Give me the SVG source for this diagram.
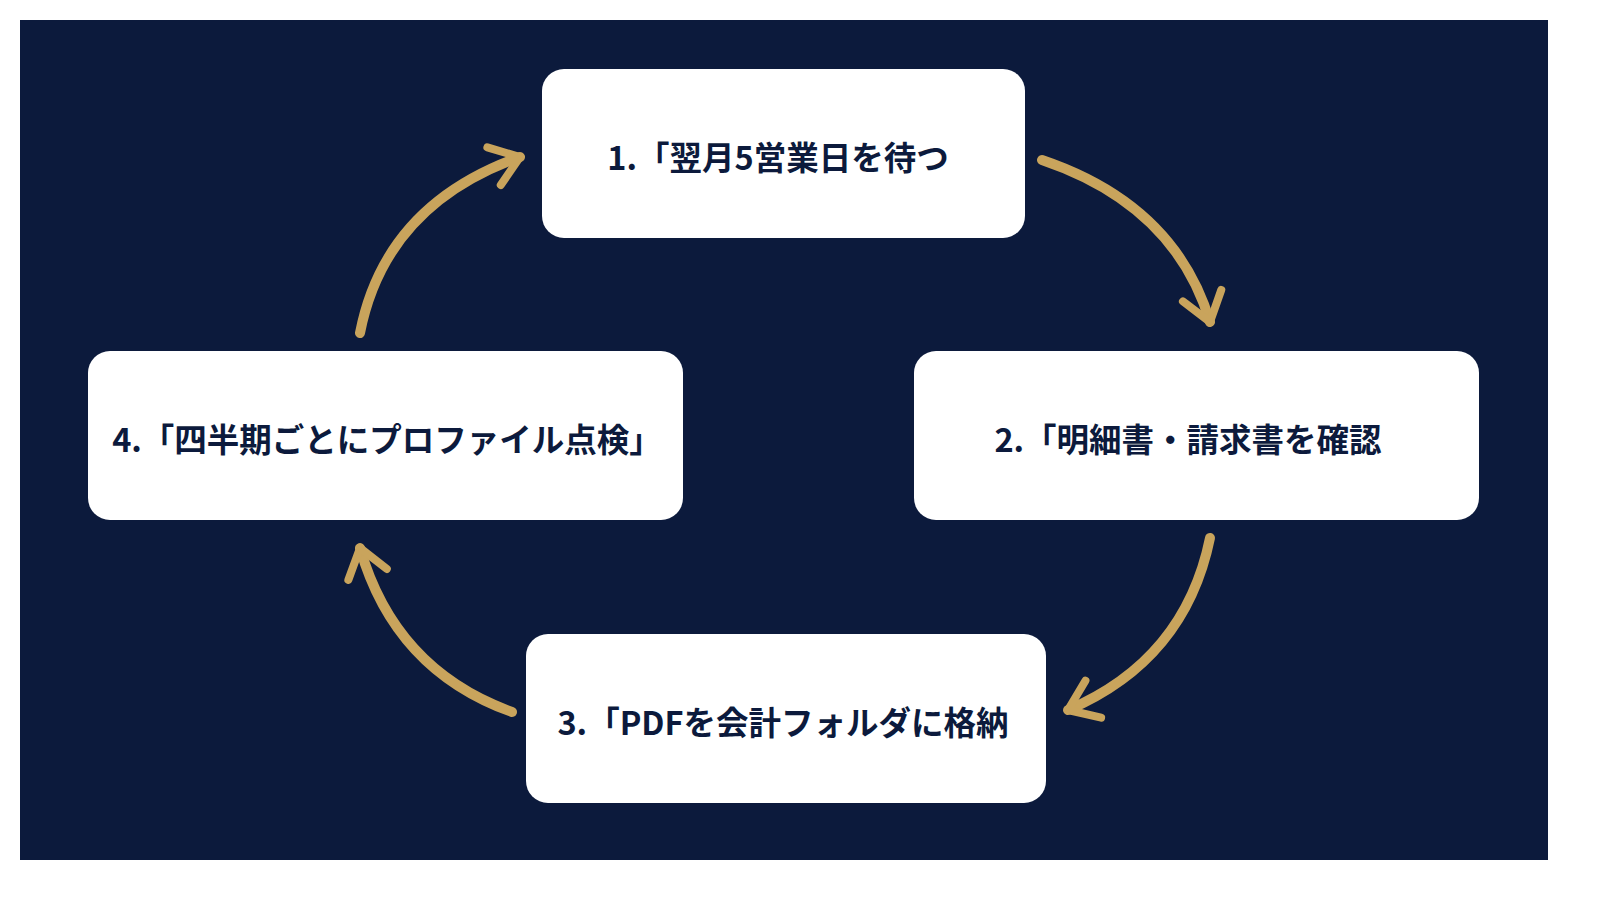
<svg xmlns="http://www.w3.org/2000/svg" width="1600" height="900" viewBox="0 0 1600 900">
<style>
.node rect{fill:#ffffff;}
.node text{font-family:"Noto Sans CJK JP","Noto Sans",sans-serif;font-weight:700;font-size:32.5px;fill:#0c1a3c;text-anchor:middle;dominant-baseline:central;}
.conn path{fill:none;stroke:#c9a45c;stroke-width:10;stroke-linecap:round;}
</style>
<defs>
<marker id="ah" viewBox="0 0 20 20" refX="14" refY="10" markerWidth="5" markerHeight="5" orient="auto" markerUnits="strokeWidth">
<path d="M3,2 L14,10 L3,18" fill="none" stroke="#c9a45c" stroke-width="3.2" stroke-linecap="round" stroke-linejoin="round"/>
</marker>
</defs>
<rect x="0" y="0" width="1600" height="900" fill="#ffffff"/>
<rect x="20" y="20" width="1528" height="840" fill="#0c1a3c"/>
<g class="conn">
<path d="M1042,160 Q1175,205 1210,322" marker-end="url(#ah)"/>
<path d="M1210,538 Q1185,660 1068,710" marker-end="url(#ah)"/>
<path d="M512,712 Q395,670 360,548" marker-end="url(#ah)"/>
<path d="M360,333 Q385,205 520,157" marker-end="url(#ah)"/>
</g>
<g id="node1" class="node"><rect x="542" y="69" width="483" height="169" rx="22"/><text x="778" y="155">1.「翌月5営業日を待つ</text></g>
<g id="node2" class="node"><rect x="914" y="351" width="565" height="169" rx="22"/><text x="1188" y="437">2.「明細書・請求書を確認</text></g>
<g id="node3" class="node"><rect x="526" y="634" width="520" height="169" rx="22"/><text x="783" y="720">3.「PDFを会計フォルダに格納</text></g>
<g id="node4" class="node"><rect x="88" y="351" width="595" height="169" rx="22"/><text x="387" y="437">4.「四半期ごとにプロファイル点検」</text></g>
</svg>
